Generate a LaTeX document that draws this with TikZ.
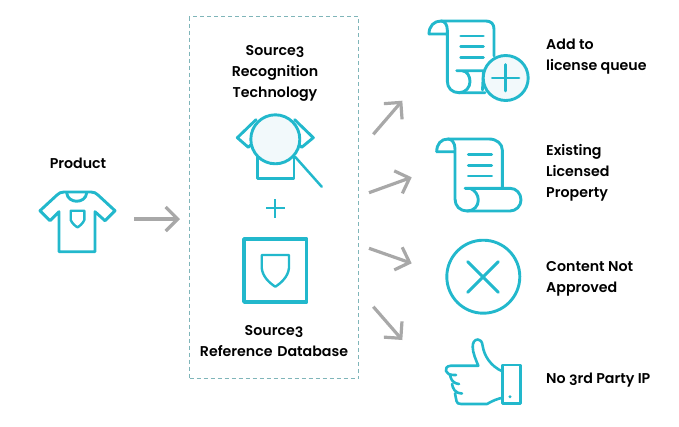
\documentclass[tikz,border=0pt]{standalone}
\usepackage{fontspec}
\setmainfont{Poppins SemiBold}
\usetikzlibrary{arrows.meta}
\definecolor{teal1}{HTML}{22B8CC}
\definecolor{lens}{HTML}{F2F9FB}
\definecolor{arrowgrey}{HTML}{A8A8A8}
\definecolor{boxdash}{HTML}{7FB5B9}
\newcommand{\oldthree}{\lower2pt\hbox{3}}
\tikzset{
  x=1pt,y=-1pt,
  icon/.style={draw=teal1,line width=2.9pt,line join=round,line cap=round,fill=none},
  thinicon/.style={icon,line width=2.4pt},
  lensfill/.style={icon,fill=lens},
  flow/.style={draw=arrowgrey,line width=3.2pt,-{Straight Barb[length=12pt,width=24pt,line width=3.2pt]}},
  frame/.style={draw=boxdash,line width=1pt,dash pattern=on 4pt off 3pt},
  lab/.style={font=\fontsize{14.2pt}{21pt}\selectfont,text=black,inner sep=0pt,align=center},
  rlab/.style={font=\fontsize{14.2pt}{21pt}\selectfont,text=black,inner sep=0pt,align=left,anchor=west},
}
\begin{document}
\begin{tikzpicture}
\useasboundingbox (0,0) rectangle (679,426);
% frame
\node[frame,minimum width=169pt,minimum height=362pt,inner sep=0pt,anchor=north west] (box) at (189,16) {};
% labels
\node[lab] (product) at (78,163) {Product};
\node[lab,text width=150pt] (recog) at (275,73) {Source\oldthree\\Recognition\\Technology};
\node[lab,text width=168pt] (refdb) at (274,341) {Source\oldthree\\Reference Database};
\node[rlab] (l1) at (546,57) {Add to\\license queue};
\node[rlab] (l2) at (546,173) {Existing\\Licensed\\Property};
\node[rlab] (l3) at (546,279) {Content Not\\Approved};
\node[rlab] (l4) at (546,380) {No \oldthree rd Party IP};
% t-shirt
\draw[icon] (64,192) -- (91,192) .. controls (94,192) and (96,193) .. (98,195) -- (115,210.7) -- (105,220.7) -- (95,211.7) -- (95,251.7) -- (59,251.7) -- (59,211.7) -- (50,220.7) -- (40,210.7) -- (57,195) .. controls (59,193) and (61,192) .. (64,192) -- cycle;
\draw[icon] (66.7,193) .. controls (68,204) and (85.4,204) .. (86.7,193);
\draw[thinicon] (70.7,210.7) -- (84.3,210.7) -- (84.3,220) .. controls (83,223) and (80,226) .. (77.5,227.3) .. controls (75,226) and (72,223) .. (70.7,220) -- cycle;
% magnifier over shirt
\draw[icon] (256,119.7) -- (237.3,137.7) -- (248.3,147.3) -- (253,143);
\draw[icon] (294.7,119.7) -- (313.3,137.7) -- (301.7,147.3) -- (297,143);
\draw[icon] (257.3,154) -- (257.3,178.3) -- (294,178.3) -- (294,154);
\draw[lensfill] (275.3,139.3) circle[radius=24.5pt];
\draw[icon,line width=2.5pt] (295,156.7) -- (321.7,186.7);
% plus
\draw[icon,line width=2pt,line cap=butt] (266,208.3) -- (285,208.3) (275.3,199) -- (275.3,218);
% database square and shield
\draw[icon,line width=3.4pt] (244,239) rectangle (306.7,302);
\draw[thinicon] (261.7,255) -- (289,255) -- (289,268) .. controls (288,277) and (281,283) .. (275.3,286.7) .. controls (269.6,283) and (262.7,277) .. (261.7,268) -- cycle;
% scroll 1
\draw[icon] (429,34) .. controls (429,26) and (434,21) .. (441,21) -- (486,21) .. controls (491,21) and (494,24) .. (494,29) -- (494,56);
\draw[icon] (429,34) -- (447.3,34) (441,21) .. controls (445,21) and (447.3,25) .. (447.3,30) -- (447.3,81) .. controls (447.3,88) and (452,92.7) .. (459,92.7) -- (485,92.7);
\draw[icon] (456.7,70.7) -- (483,70.7) (462,70.7) .. controls (467,71) and (470,76) .. (470,81.5) .. controls (470,87) and (466,92.7) .. (459,92.7);
\draw[icon] (483.5,72) -- (482.5,90);
\foreach \yy in {36,46.7,57.7} \draw[icon] (460.7,\yy) -- (483.3,\yy);
\draw[lensfill] (505.7,78) circle[radius=22.5pt];
\draw[icon] (492.3,78) -- (519,78) (505.7,64.5) -- (505.7,91);
% scroll 2
\draw[icon] (436.7,151.7) .. controls (436.7,144) and (441,139) .. (448,139) -- (489,139) .. controls (497,139) and (502.3,144) .. (502.3,150) -- (502.3,187.7);
\draw[icon] (436.7,151.7) -- (455,151.7) (448,139) .. controls (452,139) and (455,143) .. (455,149) -- (455,199) .. controls (455,206) and (460,211) .. (467,211) -- (510,211) .. controls (516,211) and (521,206) .. (521,200) .. controls (521,193) and (516,188.3) .. (510,188.3) -- (465,188.3);
\draw[icon] (470,188.3) .. controls (475,190) and (478.3,195) .. (478.3,200) .. controls (478.3,206) and (474,211) .. (467,211);
\foreach \yy in {154.7,165.3,176} \draw[icon] (468.3,\yy) -- (491.7,\yy);
% circle x
\draw[icon] (483.3,276.7) circle[radius=36.5pt];
\draw[icon] (467.7,261.7) -- (498.3,292.3) (498.3,261.7) -- (467.7,292.3);
% thumb
\draw[icon,line width=2.6pt] (502.7,365) rectangle (520.7,403.3);
\fill[teal1] (510,396.7) circle[radius=1.6pt];
\draw[icon,line width=2.6pt] (502.7,371.5) .. controls (490,366) and (484,355) .. (482.7,346) .. controls (482,341) and (480,339.5) .. (478,339.5) .. controls (474,339.5) and (472.7,343) .. (472.7,347) .. controls (472.7,353) and (476,360) .. (478.3,365.7) -- (451,365.7) .. controls (446,366) and (445.5,369) .. (446,371) .. controls (447,374) and (449,375) .. (456,375) (450,375) .. controls (451,379) and (452,383) .. (459,384) (452,384) .. controls (453,388) and (454,393) .. (462,393.5) (455,393.5) -- (456.5,401) .. controls (457,403) and (458,404) .. (461,404) -- (487,404) .. controls (492,401) and (498,398.5) .. (502.7,397.7);
% connector end points
\coordinate (a0s) at (134.3,219); \coordinate (a0e) at (180,219);
\coordinate (a1s) at (373.3,134.3); \coordinate (a1e) at (402.3,100.7);
\coordinate (a2s) at (369,192.7); \coordinate (a2e) at (411.7,177.3);
\coordinate (a3s) at (369,248.3); \coordinate (a3e) at (411.7,263.3);
\coordinate (a4s) at (373.3,306.7); \coordinate (a4e) at (402.3,340);
\draw[flow] (a0s) -- (a0e);
\draw[flow] (a1s) -- (a1e);
\draw[flow] (a2s) -- (a2e);
\draw[flow] (a3s) -- (a3e);
\draw[flow] (a4s) -- (a4e);
\end{tikzpicture}
\end{document}
